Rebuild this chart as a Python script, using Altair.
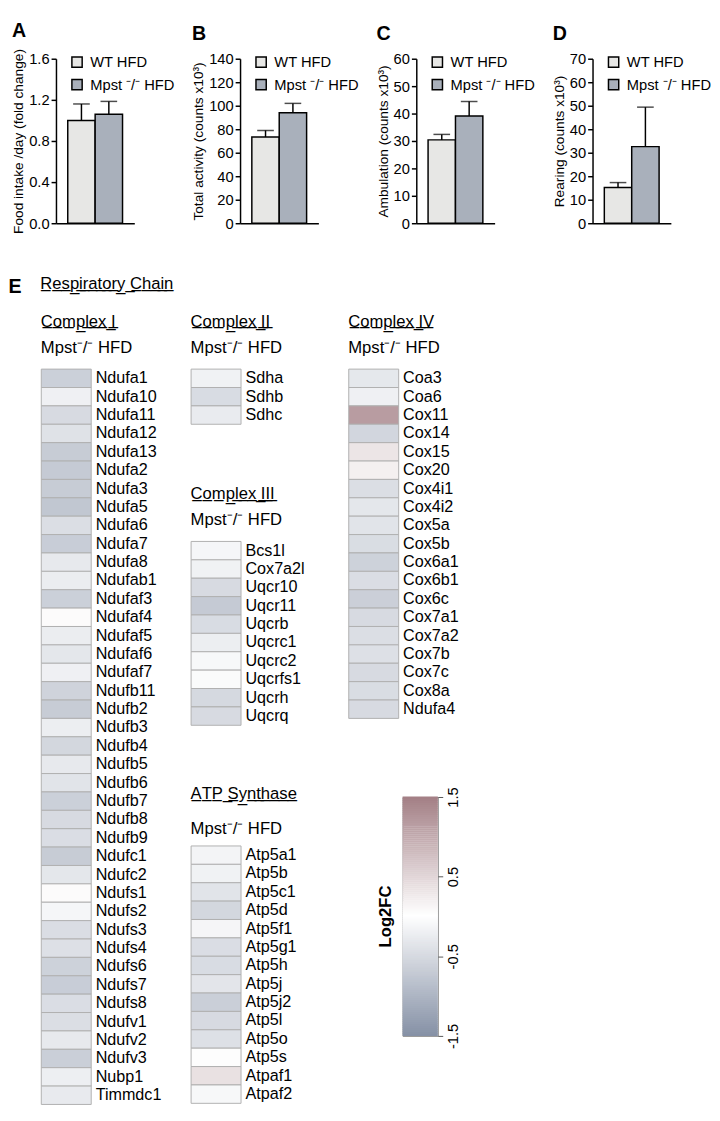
import altair as alt
import pandas as pd
import numpy as np

FONT = "Liberation Sans"

# ---------------- bar chart data ----------------
groups = ["WT HFD", "Mpst ⁻/⁻ HFD"]
bar_colors = ["#e7e7e5", "#a9b0bb"]

food_mean = [1.00, 1.06]
food_err = [0.16, 0.125]
activity_mean = [73.4, 94.0]
activity_err = [5.6, 8.0]
amb_mean = [30.4, 39.1]
amb_err = [2.0, 5.3]
rear_mean = [15.2, 32.6]
rear_err = [2.1, 16.8]

# ---------------- heatmap data ----------------
c1_genes = ["Ndufa1", "Ndufa10", "Ndufa11", "Ndufa12", "Ndufa13", "Ndufa2", "Ndufa3", "Ndufa5",
            "Ndufa6", "Ndufa7", "Ndufa8", "Ndufab1", "Ndufaf3", "Ndufaf4", "Ndufaf5", "Ndufaf6",
            "Ndufaf7", "Ndufb11", "Ndufb2", "Ndufb3", "Ndufb4", "Ndufb5", "Ndufb6", "Ndufb7",
            "Ndufb8", "Ndufb9", "Ndufc1", "Ndufc2", "Ndufs1", "Ndufs2", "Ndufs3", "Ndufs4",
            "Ndufs6", "Ndufs7", "Ndufs8", "Ndufv1", "Ndufv2", "Ndufv3", "Nubp1", "Timmdc1"]
c1_vals = [-0.64, -0.20, -0.50, -0.40, -0.70, -0.72, -0.70, -0.77,
           -0.45, -0.68, -0.30, -0.25, -0.64, 0.05, -0.25, -0.33,
           -0.20, -0.60, -0.70, -0.23, -0.55, -0.30, -0.37, -0.64,
           -0.50, -0.46, -0.70, -0.33, 0.05, -0.12, -0.46, -0.42,
           -0.62, -0.68, -0.46, -0.45, -0.30, -0.66, -0.22, -0.28]

c2_genes = ["Sdha", "Sdhb", "Sdhc"]
c2_vals = [-0.18, -0.48, -0.27]

c3_genes = ["Bcs1l", "Cox7a2l", "Uqcr10", "Uqcr11", "Uqcrb", "Uqcrc1", "Uqcrc2", "Uqcrfs1",
            "Uqcrh", "Uqcrq"]
c3_vals = [-0.12, -0.18, -0.50, -0.72, -0.48, -0.23, -0.10, -0.06, -0.52, -0.50]

c4_genes = ["Coa3", "Coa6", "Cox11", "Cox14", "Cox15", "Cox20", "Cox4i1", "Cox4i2", "Cox5a",
            "Cox5b", "Cox6a1", "Cox6b1", "Cox6c", "Cox7a1", "Cox7a2", "Cox7b", "Cox7c", "Cox8a",
            "Ndufa4"]
c4_vals = [-0.32, -0.20, 1.15, -0.56, 0.30, 0.18, -0.45, -0.33, -0.37,
           -0.47, -0.62, -0.46, -0.65, -0.50, -0.45, -0.42, -0.50, -0.47,
           -0.50]

atp_genes = ["Atp5a1", "Atp5b", "Atp5c1", "Atp5d", "Atp5f1", "Atp5g1", "Atp5h", "Atp5j",
             "Atp5j2", "Atp5l", "Atp5o", "Atp5s", "Atpaf1", "Atpaf2"]
atp_vals = [-0.15, -0.18, -0.37, -0.55, -0.13, -0.46, -0.48, -0.35,
            -0.66, -0.50, -0.42, -0.03, 0.35, -0.10]

cbar_ticks = [-1.5, -0.5, 0.5, 1.5]
cbar_samples = [round(v, 3) for v in np.arange(-1.5, 1.5, 0.025)]

heat_domain = [-1.5, 0, 1.5]
heat_range = ["#8691a6", "#ffffff", "#a27e84"]

ROW = 18.775
MPST = "\u2002Mpst⁻/⁻ HFD"


def underline(s):
    return "".join(ch + "\u0332" for ch in s)


def blank(w, h, title=None):
    c = alt.Chart(pd.DataFrame({"k": [0]})).mark_point(opacity=0, size=1).encode(
        x=alt.value(0), y=alt.value(0))
    if title is not None:
        return c.properties(width=w, height=h, title=title)
    return c.properties(width=w, height=h)


# ---------------- bar panels ----------------
def bar_panel(letter, ytitle, means, errs, ymax, step, fmt, height=168, toff=8):
    df = pd.DataFrame({"group": groups, "mean": means, "err": errs})
    df["upper"] = df["mean"] + df["err"]
    xenc = alt.X("group:N", sort=groups,
                 scale=alt.Scale(paddingInner=0, paddingOuter=0.43),
                 axis=alt.Axis(title=None, labels=False, ticks=False, domain=True,
                               domainColor="black", domainWidth=1.5))
    ticks = [float(round(v, 2)) for v in np.arange(0, ymax + step / 2, step)]
    yenc = alt.Y("mean:Q", scale=alt.Scale(domain=[0, ymax], nice=False),
                 axis=alt.Axis(values=ticks, tickCount=len(ticks), format=fmt, title=ytitle,
                               titleFont=FONT, titleFontSize=14, titleFontWeight="normal",
                               titleColor="black", titlePadding=3, labelFont=FONT,
                               labelFontSize=15, labelColor="black", labelPadding=2,
                               tickColor="black", tickWidth=1.5, tickSize=5,
                               domainColor="black", domainWidth=1.5, grid=False,
                               labelOverlap=False, labelFlush=False))
    color = alt.Color("group:N", sort=groups,
                      scale=alt.Scale(domain=groups, range=bar_colors),
                      legend=alt.Legend(title=None, orient="none", legendX=14, legendY=-4,
                                        symbolType="square", symbolSize=110,
                                        symbolStrokeColor="black", symbolStrokeWidth=1.5,
                                        labelFont=FONT, labelFontSize=15, labelColor="black",
                                        labelOffset=6, rowPadding=6))
    bars = alt.Chart(df).mark_bar(stroke="black", strokeWidth=1.5).encode(
        x=xenc, y=yenc, color=color)
    rule = alt.Chart(df).mark_rule(color="black", strokeWidth=1.5).encode(
        x=alt.X("group:N", sort=groups), y="mean:Q", y2="upper:Q")
    cap = alt.Chart(df).mark_tick(color="black", thickness=1.5, size=17).encode(
        x=alt.X("group:N", sort=groups), y="upper:Q")
    return alt.layer(bars, rule, cap).properties(
        width=80, height=height,
        title=alt.TitleParams(letter, anchor="start", frame="bounds", font=FONT, fontSize=20,
                              fontWeight="bold", color="black", offset=toff))


pA = bar_panel("A", "Food intake /day (fold change)", food_mean, food_err, 1.6, 0.4, ".1f")
pB = bar_panel("B", "Total activity (counts x10³)", activity_mean, activity_err, 140, 20, "d")
pC = bar_panel("C", "Ambulation (counts x10³)", amb_mean, amb_err, 60, 10, "d")
pD = bar_panel("D", "Rearing (counts x10³)", rear_mean, rear_err, 70, 10, "d")

top_row = alt.hconcat(pA, pB, pC, pD, spacing=16).resolve_scale(color="independent")
top_wrap = alt.hconcat(blank(1, 1), top_row, spacing=0).resolve_scale(color="independent")

# ---------------- heatmaps ----------------
heat_scale = alt.Scale(domain=heat_domain, range=heat_range, interpolate="rgb")


def heat(title, genes, vals, minext, spad=10, toff=12):
    df = pd.DataFrame({"gene": genes, "value": vals})
    return alt.Chart(df).mark_rect(stroke="#b0b0b0", strokeWidth=1).encode(
        y=alt.Y("gene:N", sort=genes, scale=alt.Scale(paddingInner=0, paddingOuter=0),
                axis=alt.Axis(orient="right", title=None, ticks=False, domain=False,
                              labelFont=FONT, labelFontSize=16.5, labelColor="black",
                              labelPadding=4, minExtent=minext, labelLimit=200)),
        color=alt.Color("value:Q", scale=heat_scale, legend=None),
    ).properties(
        width=51, height=round(ROW * len(genes), 2),
        title=alt.TitleParams(underline(title), subtitle=MPST, anchor="start", font=FONT,
                              fontSize=17, fontWeight="normal", color="black",
                              subtitleFont=FONT, subtitleFontSize=17, subtitleColor="black",
                              subtitlePadding=spad, offset=toff))


h1 = heat("Complex I", c1_genes, c1_vals, 90)
h2 = heat("Complex II", c2_genes, c2_vals, 98)
h3 = heat("Complex III", c3_genes, c3_vals, 98)
h5 = heat("ATP Synthase", atp_genes, atp_vals, 98, spad=18, toff=8)
h4 = heat("Complex IV", c4_genes, c4_vals, 60)

cbar = alt.Chart(pd.DataFrame({"v": cbar_samples})).transform_calculate(
    v2="datum.v + 0.03"
).mark_rect().encode(
    y=alt.Y("v:Q", scale=alt.Scale(domain=[-1.5, 1.5], nice=False),
            axis=alt.Axis(orient="right", values=cbar_ticks, tickCount=4, title=None,
                          domain=False, tickColor="#555555", tickSize=5, labelAngle=270,
                          labelAlign="center", labelBaseline="top", labelFont=FONT,
                          labelFontSize=15, labelColor="black", labelPadding=3, grid=False,
                          labelExpr="datum.value < 0 ? '-' + format(-datum.value, '.1f') : format(datum.value, '.1f')")),
    y2="v2:Q",
    color=alt.Color("v:Q", scale=heat_scale, legend=None),
).properties(
    width=36, height=244,
    view=alt.ViewBackground(stroke="#8c8c8c", strokeWidth=1),
    title=alt.TitleParams("Log2FC", orient="left", font=FONT, fontSize=17, fontWeight="bold",
                          color="black", offset=8))

col1 = h1
col2 = alt.vconcat(h2, h3, h5, spacing=60)
col3 = alt.vconcat(h4, alt.hconcat(blank(27, 10), cbar, spacing=0), spacing=68)

inner = alt.hconcat(col1, col2, col3, spacing=10).properties(
    title=alt.TitleParams(underline("Respiratory Chain"), anchor="start", font=FONT,
                          fontSize=17, fontWeight="normal", color="black", offset=20))

e_chart = blank(21, 10, alt.TitleParams("E", anchor="start", font=FONT, fontSize=20,
                                        fontWeight="bold", color="black", offset=73))

bottom = alt.hconcat(e_chart, inner, spacing=10)

chart = alt.vconcat(top_wrap, bottom, spacing=40).resolve_scale(
    color="independent"
).properties(
    padding={"left": 0, "top": 0, "right": 0, "bottom": 0}
).configure(font=FONT).configure_view(stroke="transparent")

chart.save("out.html", embed_options={"renderer": "svg", "actions": False})
